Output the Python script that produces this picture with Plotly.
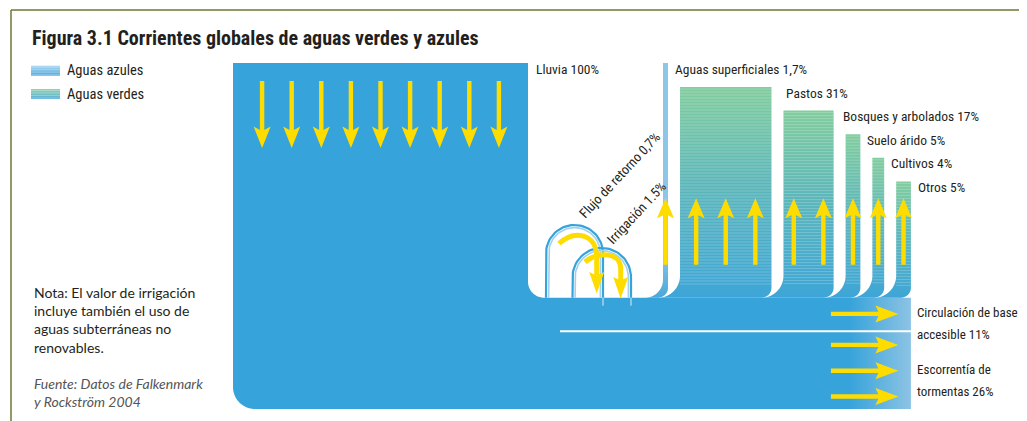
import numpy as np
import plotly.graph_objects as go

# ---------------- data ----------------
title_text = "Figura 3.1 Corrientes globales de aguas verdes y azules"
legend_labels = ["Aguas azules", "Aguas verdes"]
rain_label = "Lluvia"
rain_value = 100
rain_text = "100%"
up_labels = ["Aguas superficiales", "Pastos", "Bosques y arbolados", "Suelo árido", "Cultivos", "Otros"]
up_values = [1.7, 31, 17, 5, 4, 5]
up_texts = ["1,7%", "31%", "17%", "5%", "4%", "5%"]
up_kinds = ["azul", "verde", "verde", "verde", "verde", "verde"]
out_labels = [["Circulación de base", "accesible"], ["Escorrentía de", "tormentas"]]
out_values = [11, 26]
out_texts = ["11%", "26%"]
loop_labels = ["Flujo de retorno", "Irrigación"]
loop_values = [0.7, 1.5]
loop_texts = ["0,7%", "1.5%"]
note_lines = ["Nota: El valor de irrigación", "incluye también el uso de",
              "aguas subterráneas no", "renovables."]
source_lines = ["Fuente: Datos de Falkenmark", "y Rockström 2004"]

# ---------------- layout / style constants ----------------
W, H = 1027, 421
PAGE_OFF = 8             # default body margin of the html page
K = 2.95                 # px per percent
X0, Y_TOP = 233, 63
BAND_TOP = 297.7
COL_X0, GAP = 663, 12
COL1_TOP, STEP = 87, 23.6
R_IN, R_OUT, R0, R1 = 16, 22, 18, 10
LINE_GAP = 2.2
LABEL_DX = [5, 13, 7, 5, 5, 5]

BLUE = "#36a3da"
BLUE_END = "#8cc3e4"
LIGHT_BLUE = "#8ec6e8"
GREEN = "#82cd9e"
MID_TEAL = "#5db7b9"
COL_BOTTOM = "#3ea5d7"
YELLOW = "#ffdc00"
TXT = "#231f20"
FRAME = "#6e7737"
NARROW = "Roboto Condensed, Liberation Sans Narrow, sans-serif"
BODY = "Lato, Open Sans, sans-serif"
LAB_SIZE = 13.5
BAND_LAB_SIZE = 13


def arc(cx, cy, r, a0, a1, n=24):
    t = np.radians(np.linspace(a0, a1, n))
    return list(cx + r * np.cos(t)), list(cy + r * np.sin(t))


fig = go.Figure()
shapes = []
annotations = []

# ---------------- geometry ----------------
rain_R = X0 + rain_value * K
cols = []
x = COL_X0
prev_R = None
for i, v in enumerate(up_values):
    w = v * K
    top = Y_TOP if i == 0 else COL1_TOP + (i - 1) * STEP
    RL = R0 if i == 0 else R1 + (x - prev_R)
    cols.append(dict(xL=x, xR=x + w, top=top, RL=RL, RR=R1))
    prev_R = x + w
    x = x + w + GAP
band_R = cols[-1]["xR"]
base_bot = BAND_TOP + out_values[0] * K
storm_top = base_bot + LINE_GAP
storm_bot = storm_top + out_values[1] * K

# ---------------- big blue body (rain + outflow band) ----------------
px, py = [X0, rain_R, rain_R], [Y_TOP, Y_TOP, BAND_TOP - R_IN]
ax, ay = arc(rain_R + R_IN, BAND_TOP - R_IN, R_IN, 180, 90)
px += ax; py += ay
px += [band_R, band_R, X0 + R_OUT]; py += [BAND_TOP, storm_bot, storm_bot]
ax, ay = arc(X0 + R_OUT, storm_bot - R_OUT, R_OUT, 90, 180)
px += ax; py += ay
px += [X0]; py += [Y_TOP]
fig.add_trace(go.Scatter(x=px, y=py, mode="none", fill="toself",
                         fillgradient=dict(type="horizontal",
                                           colorscale=[[0, BLUE], [1, BLUE_END]],
                                           start=band_R - 62, stop=band_R),
                         hoverinfo="skip", showlegend=False))

# ---------------- columns (evaporation / surface water) ----------------
for i in reversed(range(len(cols))):
    c = cols[i]
    xs, ys = [c["xL"], c["xR"]], [c["top"], c["top"]]
    xs.append(c["xR"]); ys.append(BAND_TOP - c["RR"])
    ax, ay = arc(c["xR"] - c["RR"], BAND_TOP - c["RR"], c["RR"], 0, 90)
    xs += ax; ys += ay
    ax, ay = arc(c["xL"] - c["RL"], BAND_TOP - c["RL"], c["RL"], 90, 0)
    xs += ax; ys += ay
    xs.append(c["xL"]); ys.append(c["top"])
    if up_kinds[i] == "azul":
        cs = [[0, LIGHT_BLUE], [0.8, LIGHT_BLUE], [1, "#4aa8d8"]]
    else:
        cs = [[0, GREEN], [0.45, MID_TEAL], [1, COL_BOTTOM]]
    fig.add_trace(go.Scatter(x=xs, y=ys, mode="none", fill="toself",
                             fillgradient=dict(type="vertical", colorscale=cs,
                                               start=c["top"], stop=BAND_TOP),
                             hoverinfo="skip", showlegend=False))

# texture stripes on green columns
sx, sy = [], []
for i, c in enumerate(cols):
    if up_kinds[i] != "verde":
        continue
    for yy in np.arange(c["top"] + 2, BAND_TOP - 12, 3.0):
        sx += [c["xL"], c["xR"], None]
        sy += [yy, yy, None]
fig.add_trace(go.Scatter(x=sx, y=sy, mode="lines",
                         line=dict(color="rgba(255,255,255,0.22)", width=1),
                         hoverinfo="skip", showlegend=False))

# ---------------- loops (return flow & irrigation) ----------------
loop_geo = [dict(cx=574.5, r=28.5, top=225), dict(cx=601.75, r=29.25, top=248)]
for g in loop_geo:
    cy = g["top"] + g["r"]
    for dr, col, wd in [(0, BLUE, 2.2), (-2.6, "#a3d0ee", 1.6)]:
        r = g["r"] + dr
        ax, ay = arc(g["cx"], cy, r, 180, 360, 40)
        xs = [g["cx"] - r] + ax + [g["cx"] + r]
        ys = [BAND_TOP] + ay + [BAND_TOP]
        fig.add_trace(go.Scatter(x=xs, y=ys, mode="lines",
                                 line=dict(color=col, width=wd),
                                 hoverinfo="skip", showlegend=False))
    xr = g["cx"] + g["r"]
    fig.add_trace(go.Scatter(x=[xr, xr], y=[BAND_TOP, BAND_TOP + 8], mode="lines",
                             line=dict(color="#8ec6e8", width=2),
                             hoverinfo="skip", showlegend=False))

# ---------------- legend swatches ----------------
sw = [(65.7, 75.7, [[0, "#a9d6f0"], [1, "#4fa8dc"]]),
      (89.0, 99.0, [[0, "#8fd3a8"], [1, "#5aaede"]])]
for (y0, y1, cs), lab in zip(sw, legend_labels):
    fig.add_trace(go.Scatter(x=[31, 60, 60, 31, 31], y=[y0, y0, y1, y1, y0],
                             mode="none", fill="toself",
                             fillgradient=dict(type="vertical", colorscale=cs, start=y0, stop=y1),
                             hoverinfo="skip", showlegend=False))
    ssx, ssy = [], []
    for yy in np.arange(y0 + 1.5, y1, 2.5):
        ssx += [31, 60, None]; ssy += [yy, yy, None]
    fig.add_trace(go.Scatter(x=ssx, y=ssy, mode="lines",
                             line=dict(color="rgba(255,255,255,0.35)", width=0.8),
                             hoverinfo="skip", showlegend=False))
    annotations.append(dict(x=65, y=(y0 + y1) / 2, text=lab, showarrow=False,
                            xanchor="left", yanchor="middle",
                            font=dict(family=NARROW, size=14.5, color=TXT)))

# ---------------- arrows ----------------
def arrow_down(c, y0, ys, yj, yt, hw=8.5, sw_=2.2):
    return (f"M {c-sw_},{y0} L {c+sw_},{y0} L {c+sw_},{yj} L {c+hw},{ys} "
            f"L {c},{yt} L {c-hw},{ys} L {c-sw_},{yj} Z")


def arrow_right(c, x0, xs_, xj, xt, hw=8.5, sw_=2.2):
    return (f"M {x0},{c-sw_} L {x0},{c+sw_} L {xj},{c+sw_} L {xs_},{c+hw} "
            f"L {xt},{c} L {xs_},{c-hw} L {xj},{c-sw_} Z")


def spread(lo, hi, n, step):
    mid = (lo + hi) / 2
    return [mid + (j - (n - 1) / 2) * step for j in range(n)]


arrow_paths = []
n_rain = max(1, round(rain_value * K / 32))
for c in spread(X0, rain_R, n_rain, 29.6):
    arrow_paths.append(arrow_down(c, Y_TOP + 18, Y_TOP + 63.5, Y_TOP + 67, Y_TOP + 85))
for c0 in cols:
    n = max(1, round((c0["xR"] - c0["xL"]) / 32))
    for c in spread(c0["xL"], c0["xR"], n, 29.6):
        arrow_paths.append(arrow_down(c, BAND_TOP - 33, BAND_TOP - 79.5, BAND_TOP - 82.5, BAND_TOP - 99.5))
for (lo, hi) in [(BAND_TOP, base_bot), (storm_top, storm_bot)]:
    n = max(1, round((hi - lo) / 26))
    for c in spread(lo, hi, n, 25.8):
        arrow_paths.append(arrow_right(c, band_R - 80, band_R - 35.5, band_R - 32.5, band_R - 12.5))
for p in arrow_paths:
    shapes.append(dict(type="path", path=p, xref="x", yref="y", fillcolor=YELLOW,
                       line=dict(width=0), layer="above"))

# curved arrows over the loops
curves = [dict(p="M 559,243.5 C 575,229 596,234 596.7,256 L 596.7,275", tip=(596.7, 293.5)),
          dict(p="M 585,262 C 598,251 620,252 620.7,268 L 620.7,283", tip=(620.7, 298.5))]
for cv in curves:
    shapes.append(dict(type="path", path=cv["p"], xref="x", yref="y",
                       line=dict(color=YELLOW, width=5), layer="above"))
    tx, ty = cv["tip"]
    shapes.append(dict(type="path", xref="x", yref="y", fillcolor=YELLOW, line=dict(width=0),
                       layer="above",
                       path=f"M {tx-7.5},{ty-21.5} L {tx},{ty-18} L {tx+7.5},{ty-21.5} L {tx},{ty} Z"))

# white separation line in the band
shapes.append(dict(type="line", xref="x", yref="y", x0=560, x1=band_R,
                   y0=base_bot + LINE_GAP / 2, y1=base_bot + LINE_GAP / 2,
                   line=dict(color="white", width=2.2), layer="above"))

# frame
shapes.append(dict(type="line", xref="x", yref="y", x0=11, x1=W, y0=10, y1=10,
                   line=dict(color=FRAME, width=1.5)))
shapes.append(dict(type="line", xref="x", yref="y", x0=11, x1=11, y0=10, y1=H,
                   line=dict(color=FRAME, width=1.5)))

# ---------------- texts ----------------
annotations.append(dict(x=30, y=38, text=f"<b>{title_text}</b>", showarrow=False,
                        xanchor="left", yanchor="middle",
                        font=dict(family=NARROW, size=20, color=TXT)))
annotations.append(dict(x=rain_R + 6, y=Y_TOP + 6, text=f"{rain_label} {rain_text}",
                        showarrow=False, xanchor="left", yanchor="middle",
                        font=dict(family=NARROW, size=LAB_SIZE, color=TXT)))
for i, c in enumerate(cols):
    annotations.append(dict(x=c["xR"] + LABEL_DX[i], y=c["top"] + 5.5,
                            text=f"{up_labels[i]} {up_texts[i]}", showarrow=False,
                            xanchor="left", yanchor="middle",
                            font=dict(family=NARROW, size=LAB_SIZE, color=TXT)))
for (lo, hi), lab, t in zip([(BAND_TOP, base_bot), (storm_top, storm_bot)], out_labels, out_texts):
    yc = (lo + hi) / 2 + 10
    for dy, line_txt in [(-11, lab[0]), (11, f"{lab[1]} {t}")]:
        annotations.append(dict(x=band_R + 4, y=yc + dy, text=line_txt,
                                showarrow=False, xanchor="left", yanchor="middle", align="left",
                                font=dict(family=NARROW, size=BAND_LAB_SIZE, color=TXT)))
loop_text_pos = [(619.5, 175), (636, 213)]
for (lx, ly), lab, t in zip(loop_text_pos, loop_labels, loop_texts):
    annotations.append(dict(x=lx, y=ly, text=f"{lab} {t}", showarrow=False, textangle=-47,
                            xanchor="center", yanchor="middle",
                            font=dict(family=NARROW, size=LAB_SIZE, color=TXT)))
annotations.append(dict(x=32, y=320, text="<br>".join(note_lines), showarrow=False,
                        xanchor="left", yanchor="middle", align="left",
                        font=dict(family=BODY, size=14, color=TXT)))
annotations.append(dict(x=32, y=392, text="<i>" + "<br>".join(source_lines) + "</i>",
                        showarrow=False, xanchor="left", yanchor="middle", align="left",
                        font=dict(family=BODY, size=14, color="#555555")))

fig.update_layout(
    width=W - PAGE_OFF, height=H - PAGE_OFF, margin=dict(l=0, r=0, t=0, b=0),
    paper_bgcolor="white", plot_bgcolor="white",
    xaxis=dict(range=[PAGE_OFF, W], visible=False, fixedrange=True),
    yaxis=dict(range=[H, PAGE_OFF], visible=False, fixedrange=True),
    shapes=shapes, annotations=annotations, showlegend=False,
)
fig.write_html("out.html")
